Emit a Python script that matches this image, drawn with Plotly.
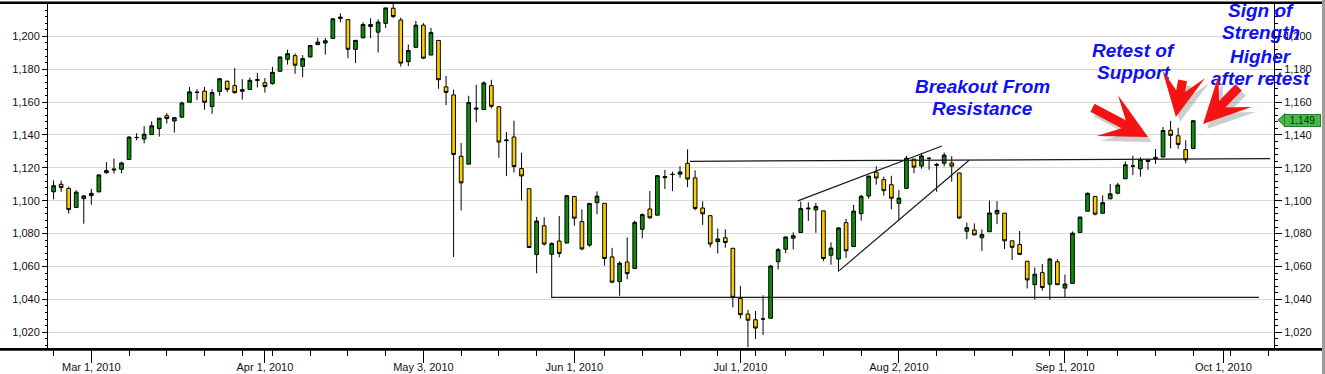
import pandas as pd
import plotly.graph_objects as go

# ---------------- data (S&P 500 daily) ----------------
holidays = ["2010-04-02", "2010-05-31", "2010-07-05", "2010-09-06"]
calendar = pd.bdate_range("2010-02-19", "2010-10-08")
calendar = calendar[~calendar.isin(pd.to_datetime(holidays))]

opens = [1105.49, 1110.00, 1107.49, 1095.89, 1101.24, 1103.10, 1105.36, 1117.01, 1119.36, 1119.12,
         1125.12, 1138.40, 1137.56, 1140.22, 1143.96, 1151.71, 1148.53, 1150.83, 1159.94, 1166.13,
         1166.68, 1157.25, 1166.47, 1172.70, 1170.03, 1167.58, 1167.71, 1173.75, 1171.75, 1171.23,
         1178.71, 1186.01, 1188.23, 1181.75, 1187.47, 1194.94, 1195.94, 1198.69, 1210.77, 1210.17,
         1192.06, 1199.04, 1207.16, 1202.52, 1207.87, 1217.07, 1209.92, 1184.59, 1193.30, 1206.77,
         1188.58, 1197.50, 1169.24, 1164.38, 1127.04, 1122.27, 1156.39, 1155.43, 1170.04, 1157.19,
         1136.52, 1138.78, 1119.57, 1107.34, 1067.26, 1084.78, 1067.42, 1075.51, 1074.27, 1102.59,
         1087.30, 1073.01, 1098.82, 1098.43, 1065.84, 1050.81, 1062.75, 1058.77, 1082.65, 1095.00,
         1091.21, 1114.02, 1115.98, 1116.16, 1122.79, 1113.90, 1095.57, 1090.93, 1075.10, 1077.50,
         1071.10, 1040.56, 1031.10, 1027.65, 1028.09, 1028.54, 1062.92, 1070.50, 1077.23, 1080.65,
         1095.61, 1094.46, 1093.85, 1066.85, 1064.53, 1086.67, 1072.14, 1092.17, 1102.89, 1117.36,
         1112.84, 1109.78, 1098.44, 1107.53, 1125.34, 1121.06, 1125.78, 1122.07, 1122.80, 1122.92,
         1116.89, 1081.48, 1082.22, 1077.49, 1081.16, 1092.08, 1092.44, 1075.63, 1073.36, 1063.20,
         1048.98, 1056.28, 1049.27, 1062.90, 1046.88, 1049.72, 1080.66, 1093.61, 1102.60, 1092.36,
         1101.15, 1104.57, 1113.38, 1121.16, 1119.43, 1123.89, 1126.39, 1126.57, 1142.82, 1139.49,
         1131.10, 1131.69]
highs = [1112.42, 1112.29, 1108.58, 1106.42, 1103.50, 1107.24, 1116.11, 1123.46, 1125.64, 1123.73,
         1139.38, 1141.05, 1145.37, 1148.26, 1150.24, 1153.41, 1150.98, 1160.28, 1169.20, 1167.77,
         1169.20, 1167.82, 1174.72, 1173.04, 1180.69, 1173.93, 1174.85, 1177.83, 1174.56, 1181.43,
         1187.73, 1191.80, 1189.60, 1188.55, 1194.66, 1199.20, 1199.04, 1210.65, 1213.92, 1210.17,
         1197.87, 1208.58, 1210.99, 1210.27, 1217.28, 1219.80, 1211.38, 1195.05, 1209.36, 1207.99,
         1205.13, 1197.50, 1175.95, 1167.58, 1135.13, 1163.85, 1170.48, 1172.58, 1173.57, 1157.19,
         1141.88, 1148.66, 1129.23, 1107.34, 1090.16, 1089.95, 1074.75, 1090.75, 1103.52, 1102.59,
         1094.77, 1098.56, 1105.67, 1098.43, 1071.36, 1063.15, 1077.74, 1087.85, 1092.25, 1105.91,
         1115.59, 1118.74, 1117.72, 1121.01, 1131.23, 1118.50, 1099.64, 1090.93, 1083.11, 1082.60,
         1071.10, 1048.08, 1033.58, 1032.95, 1042.50, 1060.89, 1071.25, 1078.16, 1080.78, 1099.46,
         1099.08, 1098.66, 1093.85, 1074.70, 1083.94, 1088.96, 1097.50, 1103.73, 1115.01, 1120.95,
         1114.66, 1115.20, 1106.44, 1127.30, 1125.44, 1128.75, 1126.56, 1123.06, 1129.30, 1127.16,
         1116.89, 1086.72, 1086.25, 1082.62, 1100.14, 1099.77, 1092.44, 1075.63, 1081.58, 1063.20,
         1059.38, 1061.45, 1065.21, 1064.40, 1055.14, 1081.30, 1090.10, 1105.10, 1102.60, 1103.26,
         1110.27, 1110.88, 1123.87, 1127.36, 1126.46, 1125.44, 1131.47, 1144.86, 1148.59, 1144.38,
         1136.77, 1148.90]
lows = [1100.80, 1105.38, 1092.18, 1095.50, 1086.02, 1097.56, 1105.36, 1116.51, 1116.58, 1116.66,
        1125.12, 1136.77, 1134.90, 1140.09, 1138.99, 1146.97, 1141.45, 1150.35, 1159.94, 1161.16,
        1155.33, 1152.88, 1163.83, 1166.01, 1165.09, 1161.48, 1167.71, 1168.92, 1165.77, 1170.69,
        1178.71, 1182.77, 1177.25, 1175.12, 1187.15, 1194.71, 1188.82, 1198.69, 1208.50, 1186.77,
        1183.68, 1199.04, 1198.85, 1190.19, 1205.10, 1211.07, 1181.62, 1181.81, 1193.30, 1186.32,
        1188.58, 1168.12, 1158.15, 1065.79, 1094.15, 1122.27, 1147.71, 1155.43, 1156.14, 1126.14,
        1114.96, 1117.20, 1100.14, 1071.58, 1055.90, 1072.70, 1040.78, 1065.59, 1074.27, 1084.78,
        1069.89, 1072.03, 1091.81, 1060.50, 1049.86, 1042.17, 1052.25, 1058.77, 1077.12, 1089.03,
        1091.21, 1107.13, 1105.87, 1113.93, 1108.24, 1094.18, 1085.31, 1071.60, 1067.89, 1071.45,
        1035.18, 1028.33, 1010.91, 1015.93, 1018.35, 1028.54, 1058.24, 1068.10, 1070.45, 1080.65,
        1087.68, 1080.53, 1063.32, 1061.11, 1056.88, 1065.25, 1072.14, 1087.88, 1101.30, 1109.78,
        1103.11, 1094.83, 1088.01, 1107.53, 1116.76, 1119.46, 1118.81, 1105.44, 1120.91, 1111.58,
        1088.99, 1076.69, 1079.00, 1069.49, 1081.16, 1085.76, 1070.66, 1063.91, 1067.08, 1046.68,
        1039.83, 1045.40, 1039.70, 1048.79, 1040.88, 1049.72, 1080.39, 1093.61, 1091.15, 1092.36,
        1101.15, 1103.92, 1113.38, 1115.58, 1114.63, 1118.88, 1122.43, 1126.57, 1131.87, 1131.58,
        1122.79, 1131.69]
closes = [1109.17, 1108.01, 1094.60, 1105.24, 1102.94, 1104.49, 1115.71, 1118.31, 1118.79, 1122.97,
          1138.70, 1138.50, 1140.45, 1145.61, 1150.24, 1149.99, 1150.51, 1159.46, 1166.21, 1165.83,
          1159.90, 1165.81, 1174.17, 1167.72, 1165.73, 1166.59, 1173.22, 1173.27, 1169.43, 1178.10,
          1187.44, 1189.44, 1182.45, 1186.44, 1194.37, 1196.48, 1197.30, 1210.65, 1211.67, 1192.13,
          1197.52, 1207.17, 1205.94, 1208.67, 1217.28, 1212.05, 1183.71, 1191.36, 1206.78, 1186.69,
          1202.26, 1173.60, 1165.87, 1128.15, 1110.88, 1159.73, 1155.79, 1171.67, 1157.44, 1135.68,
          1136.94, 1120.80, 1115.05, 1071.59, 1087.69, 1073.65, 1074.03, 1067.95, 1103.06, 1089.41,
          1070.71, 1098.38, 1102.83, 1064.88, 1050.47, 1062.00, 1055.69, 1086.84, 1091.60, 1089.63,
          1115.23, 1114.61, 1116.04, 1117.51, 1113.20, 1095.31, 1092.04, 1073.69, 1076.76, 1074.57,
          1041.24, 1030.71, 1027.37, 1022.58, 1028.06, 1060.27, 1070.25, 1077.96, 1078.75, 1095.34,
          1095.17, 1096.48, 1064.88, 1071.25, 1083.48, 1069.59, 1093.67, 1102.66, 1115.01, 1113.84,
          1106.13, 1101.53, 1101.60, 1125.86, 1120.46, 1127.24, 1125.81, 1121.64, 1127.79, 1121.06,
          1089.47, 1083.61, 1079.25, 1079.38, 1092.54, 1094.16, 1075.63, 1071.69, 1067.36, 1051.87,
          1055.33, 1047.22, 1064.59, 1048.92, 1049.33, 1080.29, 1090.10, 1104.51, 1091.84, 1098.87,
          1104.18, 1109.55, 1121.90, 1121.10, 1125.07, 1124.66, 1125.59, 1142.71, 1139.78, 1134.28,
          1124.83, 1148.67]

month_tick_dates = ["2010-03-01", "2010-04-01", "2010-05-03", "2010-06-01",
                    "2010-07-01", "2010-08-02", "2010-09-01", "2010-10-01"]
month_tick_labels = ["Mar 1, 2010", "Apr 1, 2010", "May 3, 2010", "Jun 1, 2010",
                     "Jul 1, 2010", "Aug 2, 2010", "Sep 1, 2010", "Oct 1, 2010"]
week_tick_dates = pd.date_range("2010-02-22", "2010-10-11", freq="W-MON")

last_price_label = "1,149"
last_price = 1149

# drawn trend lines (session position, price)
support_line = (66, 1041.2, 159.7, 1041.2)
resistance_line = (84.3, 1124.0, 161.2, 1125.6)
wedge_upper = (98.6, 1099.9, 117.7, 1133.3)
wedge_lower = (104.1, 1057.5, 121.3, 1124.6)

# ---------------- helpers ----------------
n = len(closes)
sessions = list(range(n))          # trading-session scale


def slot(d):
    # chart places a date's tick on the last session before it
    return int(calendar.searchsorted(pd.Timestamp(d))) - 1


month_vals = [slot(d) for d in month_tick_dates]
week_vals = [slot(d) for d in week_tick_dates]

FONT = "Liberation Sans, Arial, sans-serif"
GREEN = "#0a8f0a"
GOLD = "#ffcc00"

fig = go.Figure()
fig.add_trace(go.Candlestick(
    x=sessions, open=opens, high=highs, low=lows, close=closes,
    increasing=dict(fillcolor=GREEN, line=dict(color="black", width=1)),
    decreasing=dict(fillcolor=GOLD, line=dict(color="black", width=1)),
    whiskerwidth=0, showlegend=False, hoverinfo="skip",
))
# empty trace so the right-hand price axis is drawn
fig.add_trace(go.Scatter(x=[None], y=[None], yaxis="y2", showlegend=False, hoverinfo="skip"))

shapes = []
for (x0, y0, x1, y1) in [support_line, resistance_line, wedge_upper, wedge_lower]:
    shapes.append(dict(type="line", xref="x", yref="y", x0=x0, y0=y0, x1=x1, y1=y1,
                       line=dict(color="rgb(25,25,25)", width=1.2)))

# frame: thick top & bottom rules, grey right border
L, R, T, B = 48, 51, 4, 26
W, H = 1325, 374
pw, ph = W - L - R, H - T - B


def px_x(px):
    return (px - L) / pw


def px_y(py):
    return 1 - (py - T) / ph


shapes.append(dict(type="line", xref="paper", yref="paper", x0=px_x(0), x1=px_x(1322),
                   y0=px_y(2.8), y1=px_y(2.8), line=dict(color="black", width=2.6)))
shapes.append(dict(type="line", xref="paper", yref="paper", x0=px_x(0), x1=px_x(1322),
                   y0=px_y(349.4), y1=px_y(349.4), line=dict(color="black", width=2.6)))
shapes.append(dict(type="rect", xref="paper", yref="paper", x0=px_x(1322), x1=px_x(1326),
                   y0=px_y(H + 1), y1=px_y(-1), fillcolor="#9c9c9c", line=dict(width=0)))
# price flag pointer
shapes.append(dict(type="path", xref="paper", yref="paper",
                   path="M {a},{b} L {c},{d} L {a},{e} Z".format(
                       a=px_x(1285), b=px_y(113.5), c=px_x(1278), d=px_y(120), e=px_y(126.5)),
                   fillcolor="#46b946", line=dict(color="#2b7d2b", width=1)))

annotations = []
blue = "rgb(16,16,245)"
text_lines = [
    ("Breakout From", 982.5, 86.0), ("Resistance", 982.5, 108.8),
    ("Retest of", 1133.7, 50.0), ("Support", 1133.7, 72.6),
    ("Sign of", 1260.7, 10.3), ("Strength", 1260.7, 32.8),
    ("Higher", 1260.7, 56.2), ("after retest", 1260.7, 78.2),
]
for t, cx, cy in text_lines:
    annotations.append(dict(text="<b><i>" + t + "</i></b>", xref="paper", yref="paper",
                            x=px_x(cx), y=px_y(cy), xanchor="center", yanchor="middle",
                            showarrow=False, font=dict(family=FONT, size=19, color=blue)))

# red arrows (x, y tip in session/price; tail offset in pixels)
arrows = [(145.0, 1138.8, -57, -30, 0.85), (148.7, 1151.0, 7, -38, 0.8),
          (152.3, 1146.7, 37, -38, 0.85)]
for (ax_, ay_, dx, dy, sz) in arrows:
    annotations.append(dict(x=ax_, y=ay_, xref="x", yref="y", ax=dx, ay=dy, text="",
                            showarrow=True, arrowhead=3, arrowsize=sz, arrowwidth=9,
                            arrowcolor="rgba(60,60,60,0.25)", xshift=4, yshift=-5))
for (ax_, ay_, dx, dy, sz) in arrows:
    annotations.append(dict(x=ax_, y=ay_, xref="x", yref="y", ax=dx, ay=dy, text="",
                            showarrow=True, arrowhead=3, arrowsize=sz, arrowwidth=9,
                            arrowcolor="rgb(245,18,18)"))

annotations.append(dict(text=last_price_label, x=px_x(1302.5), y=last_price, xref="paper", yref="y",
                        xanchor="center", yanchor="middle", showarrow=False,
                        bgcolor="#46b946", bordercolor="#2b7d2b", borderwidth=1, borderpad=1,
                        width=33, height=9, font=dict(family=FONT, size=10, color="#0b2e0b")))

yax = dict(range=[1010.45, 1219.65], tick0=1000, dtick=20, tickformat=",d",
           ticks="outside", tickcolor="black", tickwidth=1, showline=True,
           linecolor="black", linewidth=1, zeroline=False, fixedrange=True,
           tickfont=dict(family=FONT, size=11, color="#111111"))

fig.update_layout(
    width=W, height=H, margin=dict(l=L, r=R, t=T, b=B, autoexpand=False),
    paper_bgcolor="white", plot_bgcolor="white", showlegend=False,
    xaxis=dict(range=[-0.74, 161.7], tickmode="array", tickvals=month_vals,
               ticktext=month_tick_labels, ticks="outside", ticklen=14, tickwidth=1.2,
               tickcolor="black", showgrid=False, zeroline=False, showline=False,
               rangeslider=dict(visible=False), fixedrange=True, automargin=False,
               ticklabelstandoff=-5,
               tickfont=dict(family=FONT, size=11, color="#111111"),
               minor=dict(tickmode="array", tickvals=week_vals, ticks="outside",
                          ticklen=7, tickwidth=1.2, tickcolor="black", showgrid=False)),
    yaxis=dict(**yax, ticklen=5, showgrid=True, gridcolor="#d9d9d9", gridwidth=1,
               automargin=False,
               minor=dict(tick0=1000, dtick=4, ticks="outside", ticklen=2.5,
                          tickcolor="black", showgrid=False)),
    yaxis2=dict(**yax, overlaying="y", side="right", anchor="x", ticklen=7, showgrid=False,
                automargin=False,
                minor=dict(tick0=1000, dtick=4, ticks="outside", ticklen=3,
                           tickcolor="black", showgrid=False)),
    shapes=shapes, annotations=annotations,
)

fig.write_html("out.html", config={"displayModeBar": False},
               post_script="document.body.style.margin='0';document.body.style.overflow='hidden';")
